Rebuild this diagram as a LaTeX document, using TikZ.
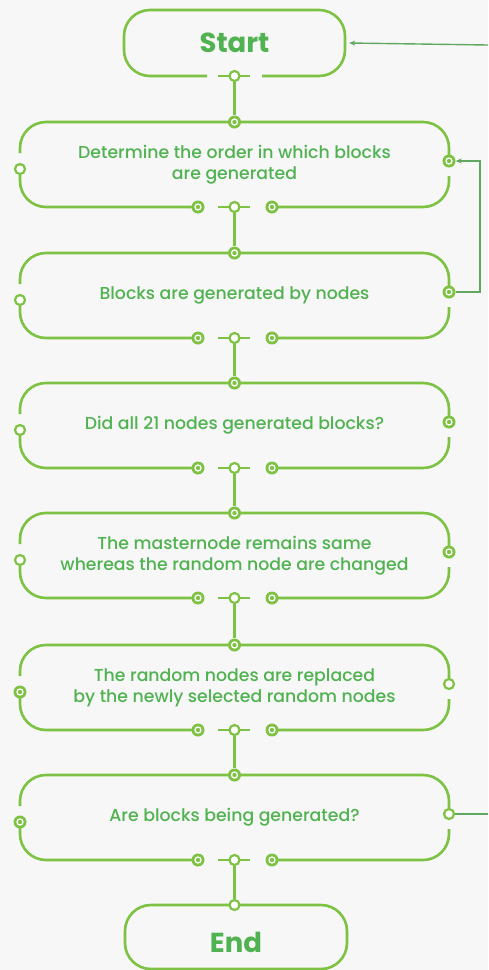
\documentclass[tikz,border=0pt]{standalone}
\usepackage{fontspec}
\setmainfont{Poppins}
\newfontfamily\bodyf{Poppins Medium}
\usetikzlibrary{arrows.meta}
\definecolor{ln}{RGB}{125,194,66}
\definecolor{tx}{RGB}{80,178,80}
\definecolor{ar}{RGB}{96,168,96}
\definecolor{bg}{RGB}{246,247,246}
\tikzset{
  box/.style={draw=ln, line width=2.6pt, rounded corners=26pt},
  conn/.style={draw=ln, line width=2.6pt},
  opc/.style={circle, draw=ln, fill=white, line width=2.2pt, minimum size=10pt, inner sep=0pt},
  bull/.style={circle, fill=ln, minimum size=13pt, inner sep=0pt,
    path picture={\draw[white,line width=1.3pt] (path picture bounding box.center) circle (3pt);}},
  boxtext/.style={text=tx, font=\bodyf\fontsize{17.3}{21}\selectfont, align=center, inner sep=0pt},
  title/.style={text=tx, font=\fontsize{27.5}{30}\selectfont\bfseries, inner sep=0pt},
  arrowline/.style={draw=ar, line width=1.4pt},
}
\newcommand\flowbox[5]{%
  \node[boxtext, minimum width=429pt, minimum height=85pt] (#1) at (234.5,#2+42.5) {#5};
  \draw[box] (20,#2+31) -- (20,#2) -- (449,#2) -- (449,#2+33);
  \draw[box] (449,#2+54) -- (449,#2+85) -- (272,#2+85);
  \draw[box] (198,#2+85) -- (20,#2+85) -- (20,#2+53);
  \draw[conn] (218,#2+85) -- (250,#2+85);
  \node[#3] (#1L) at (20,#2+47) {};
  \node[#4] (#1R) at (449,#2+39) {};
  \node[bull] (#1T) at (234.5,#2) {};
  \node[opc] (#1B) at (234.5,#2+85) {};
  \node[bull] (#1BL) at (198,#2+85) {};
  \node[bull] (#1BR) at (272,#2+85) {};
}
\begin{document}
\begin{tikzpicture}[x=1pt,y=-1pt]
\useasboundingbox (0,0) rectangle (488,970);
\fill[bg] (0,0) rectangle (488,970);
% Start
\node[title, minimum width=221pt, minimum height=66pt] (start) at (234.5,43) {Start};
\draw[box] (207,76) -- (124,76) -- (124,10) -- (345,10) -- (345,76) -- (262,76);
\draw[conn] (218,76) -- (250,76);
\node[opc] (sB) at (234.5,76) {};
% boxes
\flowbox{b1}{122}{opc}{bull}{Determine the order in which blocks\\are generated}
\flowbox{b2}{253}{opc}{bull}{Blocks are generated by nodes}
\flowbox{b3}{383}{opc}{bull}{Did all 21 nodes generated blocks?}
\flowbox{b4}{513}{opc}{bull}{The masternode remains same\\whereas the random node are changed}
\flowbox{b5}{645}{bull}{opc}{The random nodes are replaced\\by the newly selected random nodes}
\flowbox{b6}{775}{bull}{opc}{Are blocks being generated?}
% End
\node[title, minimum width=222pt, minimum height=64pt] (end) at (236,942) {End};
\draw[box] (125,905) rectangle (347,969);
\node[opc] (eT) at (234.5,905) {};
% connectors
\draw[conn] (sB) -- (b1T);
\draw[conn] (b1B) -- (b2T);
\draw[conn] (b2B) -- (b3T);
\draw[conn] (b3B) -- (b4T);
\draw[conn] (b4B) -- (b5T);
\draw[conn] (b5B) -- (b6T);
\draw[conn] (b6B) -- (eT);
% arrows
\coordinate (inS) at (488,45);
\draw[arrowline,-{Stealth[length=6pt,width=5pt]}] (inS) -- ([xshift=4pt]start.east);
\draw[arrowline,-{Stealth[length=6pt,width=5pt]}] (b2R) -- ++(31,0) |- (b1R);
\coordinate (outE) at (488,814);
\draw[arrowline] (b6R) -- (outE);
\end{tikzpicture}
\end{document}
